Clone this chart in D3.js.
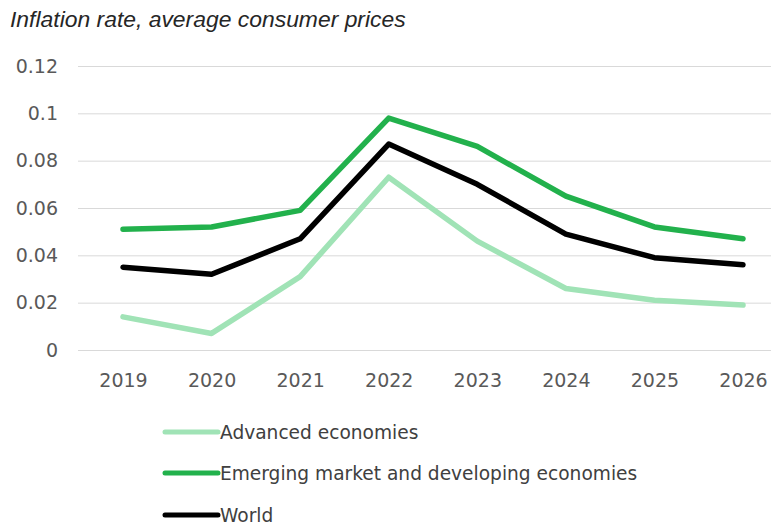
<!DOCTYPE html>
<html>
<head>
<meta charset="utf-8">
<script src="https://cdn.jsdelivr.net/npm/d3@7"></script>
<style>
  html, body { margin: 0; padding: 0; background: #fff; }
  svg { display: block; }
</style>
</head>
<body>
<svg id="chart" width="771" height="527"></svg>
<script>
// Inflation rate, average consumer prices (share, e.g. 0.05 = 5%)
const years = ["2019", "2020", "2021", "2022", "2023", "2024", "2025", "2026"];
const advanced = [0.014, 0.007, 0.031, 0.073, 0.046, 0.026, 0.021, 0.019];
const emerging = [0.051, 0.052, 0.059, 0.098, 0.086, 0.065, 0.052, 0.047];
const world    = [0.035, 0.032, 0.047, 0.087, 0.070, 0.049, 0.039, 0.036];
const yTicks = [0, 0.02, 0.04, 0.06, 0.08, 0.1, 0.12];

const seriesNames  = ["Advanced economies", "Emerging market and developing economies", "World"];
const seriesValues = [advanced, emerging, world];
const seriesColors = ["#a0e3b6", "#22b14c", "#000000"];

const svg = d3.select("#chart");
const W = 771;

const x = d3.scalePoint().domain(years).range([123, 743]);
const y = d3.scaleLinear().domain([0, 0.12]).range([350, 66]);

const fontAxis = "'DejaVu Sans', sans-serif";

// title
svg.append("text")
  .attr("x", 10).attr("y", 27)
  .attr("font-family", "'Liberation Sans', Arial, sans-serif")
  .attr("font-style", "italic")
  .attr("font-size", 22.9)
  .attr("fill", "#262626")
  .text("Inflation rate, average consumer prices");

// horizontal gridlines + y labels
const yAxis = d3.axisLeft(y)
  .tickValues(yTicks)
  .tickSize(-(W - 78))
  .tickPadding(20)
  .tickFormat(d => String(+d.toFixed(2)));

svg.append("g")
  .attr("transform", "translate(78,0)")
  .call(yAxis)
  .call(g => g.select(".domain").remove())
  .call(g => g.selectAll(".tick line").attr("stroke", "#d9d9d9").attr("stroke-width", 1))
  .call(g => g.selectAll(".tick text")
    .attr("font-family", fontAxis).attr("font-size", 19).attr("fill", "#595959"));

// x labels
const xAxis = d3.axisBottom(x).tickSize(0).tickPadding(24);
svg.append("g")
  .attr("transform", "translate(0,350)")
  .call(xAxis)
  .call(g => g.select(".domain").remove())
  .call(g => g.selectAll(".tick text")
    .attr("font-family", fontAxis).attr("font-size", 19).attr("fill", "#595959"));

// lines
const line = d3.line()
  .x((d, i) => x(years[i]))
  .y(d => y(d));

seriesValues.forEach((vals, k) => {
  svg.append("path")
    .datum(vals)
    .attr("fill", "none")
    .attr("stroke", seriesColors[k])
    .attr("stroke-width", 5.5)
    .attr("stroke-linejoin", "round")
    .attr("stroke-linecap", "round")
    .attr("d", line);
});

// legend
const legendY = [432, 473, 515];
const legend = svg.append("g");
seriesNames.forEach((name, k) => {
  const row = legend.append("g").attr("transform", `translate(0,${legendY[k]})`);
  row.append("line")
    .attr("x1", 165).attr("x2", 218)
    .attr("y1", 0).attr("y2", 0)
    .attr("stroke", seriesColors[k])
    .attr("stroke-width", 5)
    .attr("stroke-linecap", "round");
  row.append("text")
    .attr("x", 220).attr("y", 0)
    .attr("dy", "0.35em")
    .attr("font-family", fontAxis)
    .attr("font-size", 18.6)
    .attr("fill", "#404040")
    .text(name);
});
</script>
</body>
</html>
